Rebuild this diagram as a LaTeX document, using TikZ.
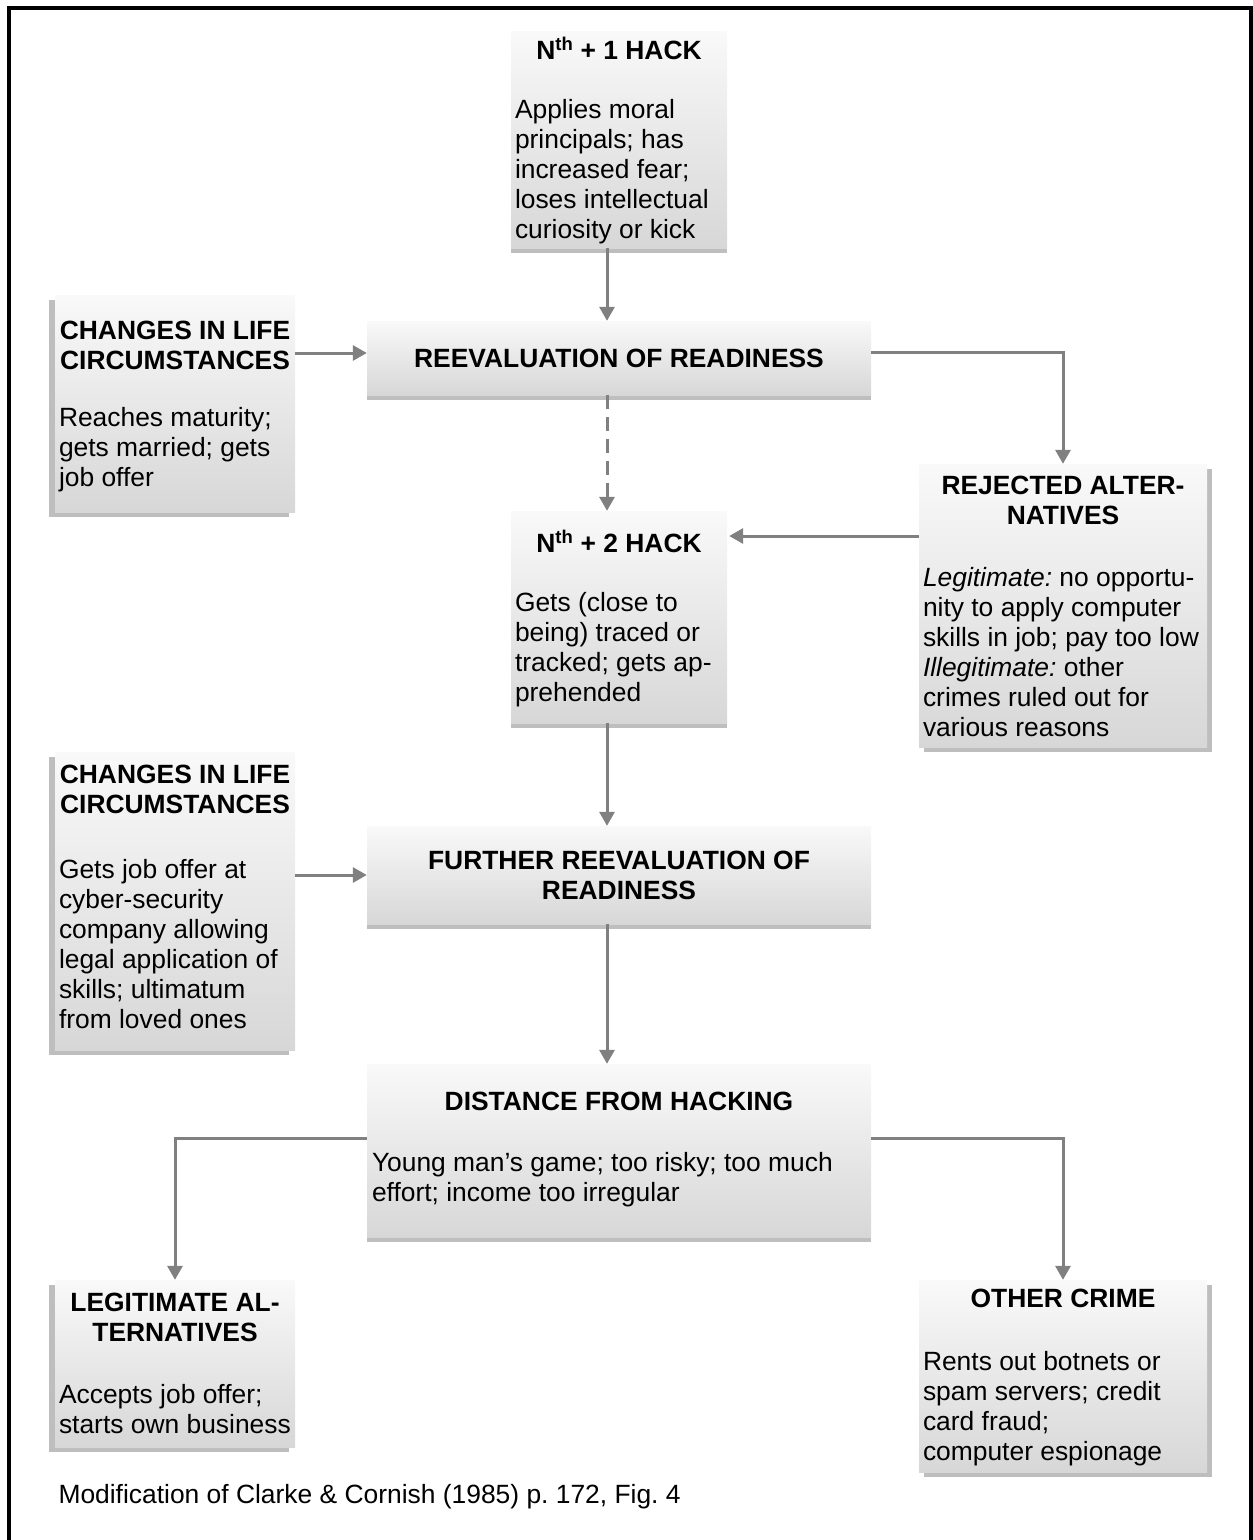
\documentclass[tikz,border=0pt]{standalone}
\usepackage{fontspec}
\setmainfont{Liberation Sans}
\usetikzlibrary{arrows.meta, shadows}
\definecolor{arrowgray}{RGB}{128,128,128}
\definecolor{boxtop}{RGB}{249,249,249}
\definecolor{boxbottom}{RGB}{215,215,215}
\definecolor{shadowgray}{RGB}{190,190,190}
\frenchspacing
\newcommand{\stagetext}[6]{\parbox[t][#2][t]{#1}{{\centering\bfseries\rule{0pt}{#3}#4\par}\vspace{#5}{\raggedright #6\par}}}

\begin{document}
\begin{tikzpicture}[x=1pt, y=-1pt,
    every node/.style = {font=\fontsize{26.4pt}{30pt}\selectfont},
    head/.style = {font=\fontsize{26.4pt}{30pt}\selectfont\bfseries},
    stage/.style = {top color=boxtop, bottom color=boxbottom, inner xsep=4pt, inner ysep=0pt},
    midshadow/.style = {drop shadow={shadow xshift=0pt, shadow yshift=-5pt, fill=shadowgray, opacity=1}},
    leftshadow/.style = {drop shadow={shadow xshift=-6pt, shadow yshift=-5pt, fill=shadowgray, opacity=1}},
    rightshadow/.style = {drop shadow={shadow xshift=5pt, shadow yshift=-5pt, fill=shadowgray, opacity=1}},
    arr/.style = {draw=arrowgray, line width=3pt, -{Triangle[length=14pt, width=15pt]}}]
    \useasboundingbox (0,0) rectangle (1253,1540);
    \draw[line width=4pt] (9,1540) -- (9,8) -- (1251,8) -- (1251,1540);

    \node[stage, midshadow] (hack1) at (619,139.5) {\stagetext{208pt}{217pt}{28.5pt}{N\textsuperscript{th} + 1 HACK}{28.5pt}{Applies moral\\principals; has\\increased fear;\\loses intellectual\\curiosity or kick}};
    \node[stage, leftshadow] (life1) at (175,403.5) {\stagetext{232pt}{217pt}{44pt}{CHANGES IN LIFE\\CIRCUMSTANCES}{27pt}{Reaches maturity;\\gets married; gets\\job offer}};
    \node[stage, midshadow, head, minimum width=504pt, minimum height=74pt] (reeval) at (619,358) {REEVALUATION OF READINESS};
    \node[stage, rightshadow] (reject) at (1063,605.5) {\stagetext{280pt}{283pt}{30.5pt}{REJECTED ALTER-\\NATIVES}{31.5pt}{\textit{Legitimate:} no opportu-\\nity to apply computer\\skills in job; pay too low\\\textit{Illegitimate:} other\\crimes ruled out for\\various reasons}};
    \node[stage, midshadow] (hack2) at (619,617) {\stagetext{208pt}{212pt}{41.5pt}{N\textsuperscript{th} + 2 HACK}{28.5pt}{Gets (close to\\being) traced or\\tracked; gets ap-\\prehended}};
    \node[stage, leftshadow] (life2) at (175,901) {\stagetext{232pt}{298pt}{31.5pt}{CHANGES IN LIFE\\CIRCUMSTANCES}{34.5pt}{Gets job offer at\\cyber-security\\company allowing\\legal application of\\skills; ultimatum\\from loved ones}};
    \node[stage, midshadow, head, align=center, minimum width=504pt, minimum height=98pt] (further) at (619,875) {FURTHER REEVALUATION OF\\READINESS};
    \node[stage, midshadow, inner xsep=5pt] (distance) at (619,1150.5) {\stagetext{494pt}{173pt}{46.5pt}{DISTANCE FROM HACKING}{30.5pt}{Young man’s game; too risky; too much\\effort; income too irregular}};
    \node[stage, leftshadow] (legit) at (175,1363.5) {\stagetext{232pt}{167pt}{31.5pt}{LEGITIMATE AL-\\TERNATIVES}{31.5pt}{Accepts job offer;\\starts own business}};
    \node[stage, rightshadow] (other) at (1063,1376) {\stagetext{280pt}{192pt}{27.5pt}{OTHER CRIME}{32.5pt}{Rents out botnets or\\spam servers; credit\\card fraud;\\computer espionage}};
    \node[anchor=west] (source) at (55,1497) {Modification of Clarke \& Cornish (1985) p. 172, Fig. 4};

    \draw[arr] ([xshift=-12pt]hack1.south) -- ([xshift=-12pt]reeval.north);
    \draw[arr] ([yshift=5pt]reeval.west -| life1.east) -- ([yshift=5pt]reeval.west);
    \draw[arr] ([yshift=6pt]reeval.east) -| (reject.north);
    \draw[arr, dash pattern=on 14pt off 8pt] ([xshift=-12pt]reeval.south) -- ([xshift=-12pt]hack2.north);
    \draw[arr, shorten >=2pt] ([yshift=69.5pt]reject.west) -- ([yshift=69.5pt]reject.west -| hack2.east);
    \draw[arr] ([xshift=-12pt]hack2.south) -- ([xshift=-12pt]further.north);
    \draw[arr] (further.west -| life2.east) -- (further.west);
    \draw[arr] ([xshift=-12pt]further.south) -- ([xshift=-12pt]distance.north);
    \draw[arr] ([yshift=12.5pt]distance.west) -| (legit.north);
    \draw[arr] ([yshift=12.5pt]distance.east) -| (other.north);
\end{tikzpicture}
\end{document}
